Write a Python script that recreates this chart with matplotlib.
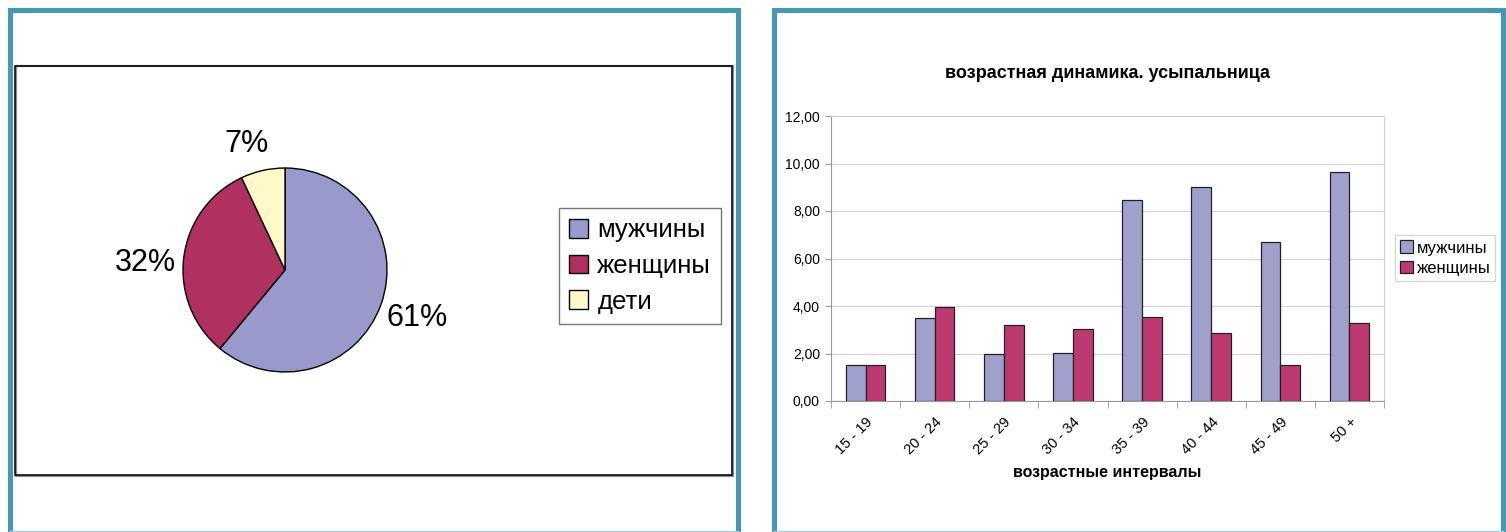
import numpy as np
import matplotlib
matplotlib.use('Agg')
import matplotlib.pyplot as plt
from matplotlib.patches import Rectangle
from matplotlib.lines import Line2D

plt.rcParams['font.family'] = ['Liberation Sans', 'DejaVu Sans']

# pie data
pie_labels = ['мужчины', 'женщины', 'дети']
pie_values = [61, 32, 7]
pie_colors = ['#9999cc', '#b03060', '#fff8c8']

# bar data
age_groups = ['15 - 19', '20 - 24', '25 - 29', '30 - 34', '35 - 39', '40 - 44', '45 - 49', '50 +']
men = [1.50, 3.50, 2.00, 2.03, 8.48, 9.00, 6.70, 9.64]
women = [1.50, 3.97, 3.20, 3.03, 3.52, 2.85, 1.50, 3.30]
yticks = [0, 2, 4, 6, 8, 10, 12]

W, H = 1506, 532
fig = plt.figure(figsize=(W / 100, H / 100), dpi=100)
fig.patch.set_facecolor('white')

def fx(x):
    return x / W

def fy(y):
    return 1 - y / H

teal = '#4797b3'
# panel borders
for x0, x1 in [(9.5, 737.5), (773.5, 1502.5)]:
    fig.add_artist(Line2D([fx(x0), fx(x0), fx(x1), fx(x1)],
                          [fy(H), fy(9.5), fy(9.5), fy(H)],
                          color=teal, lw=3.7, solid_joinstyle='miter'))
    fig.add_artist(Line2D([fx(x0), fx(x1)], [fy(531), fy(531)], color='#9fd0dc', lw=1))

# box around the pie chart
fig.add_artist(Rectangle((fx(16), fy(476)), fx(717), 410 / H, transform=fig.transFigure,
                         fill=False, ec='#909090', lw=1.6))
fig.add_artist(Rectangle((fx(15), fy(475)), fx(717), 409 / H, transform=fig.transFigure,
                         fill=False, ec='black', lw=1.1))

# pie
ax1 = fig.add_axes([fx(182), fy(373), 206 / W, 206 / H])
wedges, texts, autotexts = ax1.pie(pie_values, colors=pie_colors, startangle=90, counterclock=False,
                                   autopct='%d%%', pctdistance=1.38,
                                   wedgeprops=dict(edgecolor='black', linewidth=1))
for t in autotexts:
    t.set_fontsize(22)
# excel puts the two small labels a bit lower
px, py = autotexts[1].get_position()
autotexts[1].set_position((px, py - 0.1))
px, py = autotexts[2].get_position()
autotexts[2].set_position((px - 0.08, py - 0.11))
ax1.set_xlim(-1.01, 1.01)
ax1.set_ylim(-1.01, 1.01)
ax1.set_aspect('equal')
ax1.legend(wedges, pie_labels, loc='center', bbox_to_anchor=(fx(640), fy(266)),
           bbox_transform=fig.transFigure, fontsize=18.5, frameon=True, fancybox=False,
           edgecolor='#555555', handlelength=0.75, handleheight=0.75, handletextpad=0.35,
           labelspacing=0.45, borderpad=0.4)

# bar chart
ax2 = fig.add_axes([fx(831), fy(401), 553 / W, 285 / H])
x = np.arange(len(age_groups))
bw = 0.285
ax2.bar(x - bw / 2, men, bw, color='#a0a0cc', edgecolor='#222222', lw=0.9, label='мужчины', zorder=3)
ax2.bar(x + bw / 2, women, bw, color='#bc3a70', edgecolor='#222222', lw=0.9, label='женщины', zorder=3)
ax2.set_xlim(-0.5, len(age_groups) - 0.5)
ax2.set_ylim(0, 12)
ax2.set_yticks(yticks)
ax2.set_yticklabels([('%.2f' % v).replace('.', ',') for v in yticks], fontsize=10)
ax2.set_xticks(x)
ax2.set_xticklabels(age_groups, rotation=45, ha='right', rotation_mode='anchor', fontsize=10.5)
ax2.set_xticks(np.arange(len(age_groups) + 1) - 0.5, minor=True)
ax2.tick_params(axis='x', which='major', length=0, pad=10)
ax2.tick_params(axis='x', which='minor', length=5, color='#999999')
ax2.tick_params(axis='y', length=4, color='#999999', pad=4)
ax2.yaxis.grid(True, color='#d4d4d4', lw=0.9, zorder=0)
for s in ['left', 'bottom']:
    ax2.spines[s].set_color('#999999')
for s in ['top', 'right']:
    ax2.spines[s].set_color('#d4d4d4')
ax2.set_title('возрастная динамика. усыпальница', fontsize=13, fontweight='bold', pad=27)
ax2.set_xlabel('возрастные интервалы', fontsize=11.5, fontweight='bold', labelpad=6)
ax2.legend(loc='center', bbox_to_anchor=(fx(1445), fy(258)), bbox_transform=fig.transFigure,
           fontsize=12, frameon=True, fancybox=False, edgecolor='#cccccc',
           handlelength=0.8, handleheight=0.8, handletextpad=0.2, labelspacing=0.3, borderpad=0.3)

fig.savefig('out.png', dpi=100)
